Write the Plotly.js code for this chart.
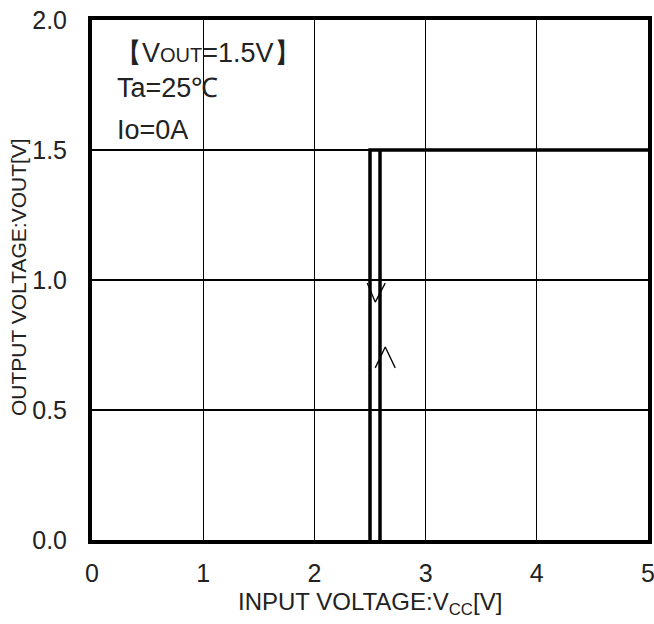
<!DOCTYPE html>
<html>
<head>
<meta charset="utf-8">
<script src="https://cdn.plot.ly/plotly-3.0.1.min.js"></script>
<style>html,body{margin:0;padding:0;background:#fff;}#chart{width:654px;height:624px;}</style>
</head>
<body>
<div id="chart"></div>
<script>
// Falling sweep (Vcc decreasing) and rising sweep (Vcc increasing)
const fallX = [2.50, 2.50, 5.0];
const fallY = [0.0, 1.5, 1.5];
const riseX = [2.59, 2.59];
const riseY = [0.0, 1.5];
// direction arrows
const arrowDownX = [2.475, 2.547, 2.637];
const arrowDownY = [0.988, 0.915, 0.988];
const arrowUpX = [2.547, 2.637, 2.727];
const arrowUpY = [0.662, 0.742, 0.662];
const xTicks = [0, 1, 2, 3, 4, 5];
const xTickText = ['0', '1', '2', '3', '4', '5'];
const yTicks = [0, 0.5, 1.0, 1.5, 2.0];
const yTickText = ['0.0', '0.5', '1.0', '1.5', '2.0'];

const font = 'Arial, "Liberation Sans", sans-serif';
const dark = '#222';

const traces = [
  {x: fallX, y: fallY, mode: 'lines', line: {color: '#000', width: 3.5}, hoverinfo: 'skip'},
  {x: riseX, y: riseY, mode: 'lines', line: {color: '#000', width: 3.5}, hoverinfo: 'skip'},
  {x: arrowDownX, y: arrowDownY, mode: 'lines', line: {color: '#000', width: 1.3}, hoverinfo: 'skip'},
  {x: arrowUpX, y: arrowUpY, mode: 'lines', line: {color: '#000', width: 1.3}, hoverinfo: 'skip'}
];

const axisCommon = {
  showline: true, linecolor: '#000', linewidth: 4, mirror: true,
  showgrid: true, gridcolor: '#000', gridwidth: 1.2,
  zeroline: false, ticks: '', fixedrange: true,
  ticklabeloverflow: 'allow',
  tickfont: {family: font, size: 25, color: dark}
};

const layout = {
  width: 654, height: 624,
  margin: {l: 92, r: 6, t: 20, b: 84},
  paper_bgcolor: '#fff', plot_bgcolor: '#fff',
  showlegend: false,
  xaxis: Object.assign({}, axisCommon, {
    range: [0, 5], tickvals: xTicks, ticktext: xTickText, ticklabelstandoff: 8
  }),
  yaxis: Object.assign({}, axisCommon, {
    range: [0, 2], tickvals: yTicks, ticktext: yTickText, ticklabelstandoff: 16
  }),
  annotations: [
    {xref: 'x', yref: 'y', x: 0.19, y: 1.873, xanchor: 'left', yanchor: 'middle', showarrow: false,
     text: '【V<span style="font-size:20px">OUT</span>=1.5V】', font: {family: font, size: 27, color: dark}},
    {xref: 'x', yref: 'y', x: 0.21, y: 1.74, xanchor: 'left', yanchor: 'middle', showarrow: false,
     text: 'Ta=25℃', font: {family: font, size: 27, color: dark}},
    {xref: 'x', yref: 'y', x: 0.21, y: 1.577, xanchor: 'left', yanchor: 'middle', showarrow: false,
     text: 'Io=0A', font: {family: font, size: 27, color: dark}},
    {xref: 'x', yref: 'paper', x: 2.5, y: -0.123, xanchor: 'center', yanchor: 'middle', showarrow: false,
     text: 'INPUT VOLTAGE:V<sub>CC</sub>[V]', font: {family: font, size: 24, color: dark}},
    {xref: 'paper', yref: 'y', x: -0.132, y: 1.01, xanchor: 'center', yanchor: 'middle', showarrow: false, textangle: -90,
     text: 'OUTPUT VOLTAGE:VOUT[V]', font: {family: font, size: 21, color: dark}}
  ]
};

Plotly.newPlot('chart', traces, layout, {displayModeBar: false, staticPlot: true});
</script>
</body>
</html>
